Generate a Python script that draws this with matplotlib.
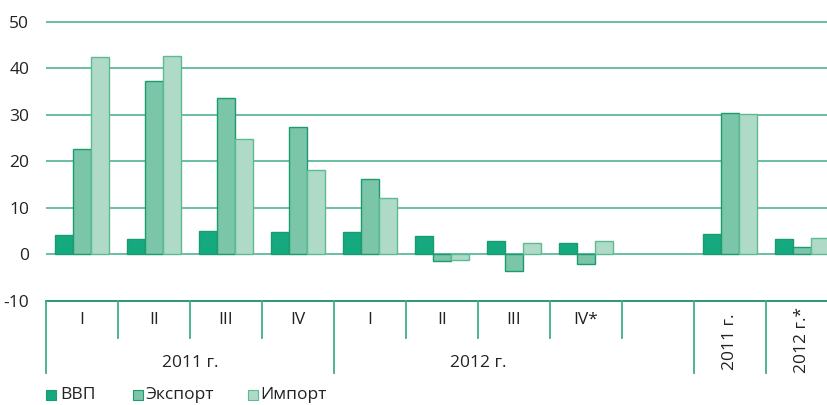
import numpy as np
import matplotlib
matplotlib.use("Agg")
import matplotlib.pyplot as plt
from matplotlib.patches import Rectangle

plt.rcParams['font.family'] = ['Open Sans', 'DejaVu Sans']
plt.rcParams['axes.unicode_minus'] = False

# data (percent)
quarters = ["I", "II", "III", "IV", "I", "II", "III", "IV*", "", "", ""]
years = ["2011 г.", "2012 г."]
annual = ["2011 г.", "2012 г.*"]
gdp    = [4.1, 3.4, 5.0, 4.8, 4.9, 4.0, 2.9, 2.5, np.nan, 4.3, 3.4]
export = [22.7, 37.2, 33.6, 27.4, 16.2, -1.4, -3.6, -2.1, np.nan, 30.3, 1.7]
imprt  = [42.4, 42.5, 24.7, 18.2, 12.2, -1.1, 2.4, 2.9, np.nan, 30.2, 3.6]
series_names = ["ВВП", "Экспорт", "Импорт"]

c_gdp = '#14a97f'
c_exp = '#7bc5a8'
c_imp = '#afdac8'
edge = '#1b9b70'
line_c = '#3fae85'
text_c = '#222222'
fs = 12.5

fig = plt.figure(figsize=(8.27, 4.05), dpi=100)
ax = fig.add_axes([46/827, 1-301/405, 1-46/827, (301-12.2)/405])

x = np.arange(len(gdp))
w = 0.25
ax.bar(x - w, gdp, w, color=c_gdp, edgecolor=edge, linewidth=1, zorder=3, label=series_names[0])
ax.bar(x, export, w, color=c_exp, edgecolor=edge, linewidth=1, zorder=3, label=series_names[1])
ax.bar(x + w, imprt, w, color=c_imp, edgecolor='#5cbb93', linewidth=1, zorder=3, label=series_names[2])

ax.set_xlim(-0.5, 10.35)
ax.set_ylim(-10, 52)
for s in ax.spines.values():
    s.set_visible(False)
ax.set_xticks([])
ax.set_yticks(range(-10, 51, 10))
ax.tick_params(axis='y', length=0, pad=12, labelsize=fs, labelcolor=text_c)
for v in range(0, 51, 10):
    ax.axhline(v, color=line_c, lw=1.3, alpha=0.85, zorder=1)
ax.axhline(-10, color='#1a9066', lw=1.3, zorder=1, clip_on=False)

# category table below the plot
y_top = -10
y_short = -17.9
y_long = -25.4
long_edges = [0, 4, 9, 10]
for i in range(11):
    xe = i - 0.5
    bottom = y_long if i in long_edges else y_short
    ax.plot([xe, xe], [y_top, bottom], color=line_c, lw=1.3, clip_on=False, zorder=1)
for i, q in enumerate(quarters):
    if q:
        ax.text(i, -14.1, q, ha='center', va='center', fontsize=fs, color=text_c, clip_on=False)
ax.text(1.5, -23.3, years[0], ha='center', va='center', fontsize=fs, color=text_c)
ax.text(5.5, -23.3, years[1], ha='center', va='center', fontsize=fs, color=text_c)
ax.text(9, -18.8, annual[0], ha='center', va='center', rotation=90, fontsize=fs, color=text_c)
ax.text(10, -18.3, annual[1], ha='center', va='center', rotation=90, fontsize=fs, color=text_c)

# legend
leg_y = 1 - 395/405
for xs, xt, c, ec, name in [(46, 60, c_gdp, edge, series_names[0]),
                             (133, 145, c_exp, edge, series_names[1]),
                             (248, 260, c_imp, '#5cbb93', series_names[2])]:
    fig.patches.append(Rectangle((xs/827, leg_y - 5/405), 10/827, 10/405,
                                 transform=fig.transFigure, facecolor=c,
                                 edgecolor=ec, linewidth=0.8))
    fig.text(xt/827, leg_y, name, ha='left', va='center', fontsize=fs, color=text_c)

fig.savefig("out.png", dpi=100)
